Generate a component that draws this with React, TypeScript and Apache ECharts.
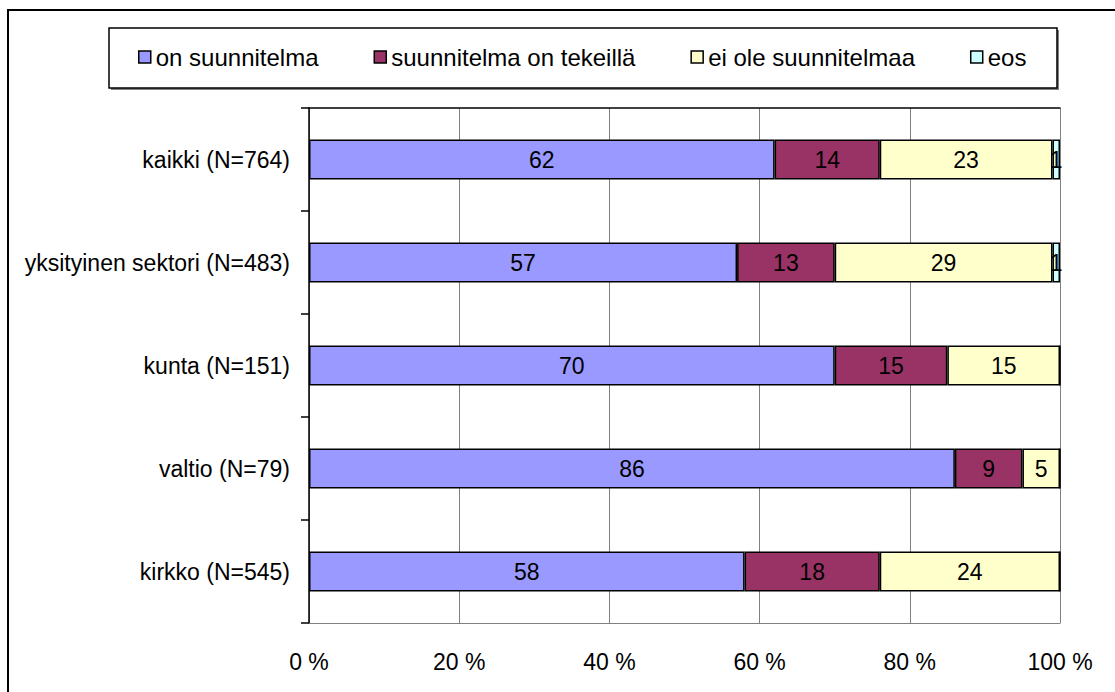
import React, { useEffect, useRef } from "react";
import * as echarts from "echarts";

const categories = [
  "kaikki (N=764)",
  "yksityinen sektori (N=483)",
  "kunta (N=151)",
  "valtio (N=79)",
  "kirkko (N=545)",
];
const seriesNames = ["on suunnitelma", "suunnitelma on tekeillä", "ei ole suunnitelmaa", "eos"];
const onSuunnitelma = [62, 57, 70, 86, 58];
const tekeilla = [14, 13, 15, 9, 18];
const eiOle = [23, 29, 15, 5, 24];
const eos = [1, 1, 0, 0, 0];
const xTicks = [0, 20, 40, 60, 80, 100];
const colors = ["#9999FF", "#993366", "#FFFFCC", "#CCFFFF"];

const FONT = "'Liberation Sans', Arial, sans-serif";

export default function App() {
  const ref = useRef<HTMLDivElement>(null);
  useEffect(() => {
    if (!ref.current) return;
    const chart = echarts.init(ref.current, null, { renderer: "svg" });
    const values = [onSuunnitelma, tekeilla, eiOle, eos];
    chart.setOption({
      animation: false,
      backgroundColor: "#ffffff",
      textStyle: { fontFamily: FONT, color: "#000" },
      graphic: [
        {
          type: "rect",
          z: -10,
          shape: { x: 8, y: 10, width: 1300, height: 900 },
          style: { fill: "none", stroke: "#000", lineWidth: 2 },
        },
        {
          type: "rect",
          z: -5,
          shape: { x: 111, y: 30, width: 948, height: 60 },
          style: { fill: "#808080" },
        },
        {
          type: "rect",
          z: -4,
          shape: { x: 109, y: 28, width: 948, height: 60 },
          style: { fill: "#fff", stroke: "#000", lineWidth: 1.5 },
        },
      ],
      legend: {
        left: 138,
        top: 45,
        padding: 0,
        itemWidth: 12,
        itemHeight: 12,
        itemGap: 55,
        icon: "rect",
        data: seriesNames,
        textStyle: { fontFamily: FONT, fontSize: 24, color: "#000", lineHeight: 24 },
        itemStyle: { borderColor: "#000", borderWidth: 1.5 },
      },
      grid: { left: 309, right: 55, top: 108, bottom: 69, containLabel: false },
      xAxis: [
        {
          type: "value",
          min: 0,
          max: 100,
          interval: 20,
          position: "bottom",
          axisLine: { show: true, lineStyle: { color: "#808080", width: 1 } },
          axisTick: { show: false },
          splitLine: { show: true, lineStyle: { color: "#808080", width: 1 } },
          axisLabel: {
            margin: 27,
            fontSize: 23,
            color: "#000",
            fontFamily: FONT,
            formatter: (v: number) => (xTicks.includes(v) ? v + " %" : ""),
          },
        },
        {
          type: "value",
          min: 0,
          max: 100,
          position: "top",
          axisLine: { show: true, lineStyle: { color: "#000", width: 1.5 } },
          axisTick: { show: false },
          splitLine: { show: false },
          axisLabel: { show: false },
        },
      ],
      yAxis: {
        type: "category",
        inverse: true,
        data: categories,
        axisLine: { show: true, lineStyle: { color: "#000", width: 1.5 } },
        axisTick: { show: true, length: 8, lineStyle: { color: "#000", width: 1.5 } },
        axisLabel: { margin: 19, fontSize: 23, color: "#000", fontFamily: FONT },
      },
      series: seriesNames.map((name, i) => ({
        name,
        type: "bar",
        stack: "total",
        xAxisIndex: 0,
        barWidth: 40,
        data: values[i],
        itemStyle: { color: colors[i], borderColor: "#000", borderWidth: 1.5 },
        label: {
          show: true,
          position: "inside",
          fontSize: 23,
          color: "#000",
          fontFamily: FONT,
          formatter: (p: any) => (p.value ? String(p.value) : ""),
        },
      })),
    });
    return () => chart.dispose();
  }, []);
  return (
    <div
      ref={ref}
      style={{ position: "absolute", left: 0, top: 0, width: 1115, height: 692 }}
    />
  );
}
